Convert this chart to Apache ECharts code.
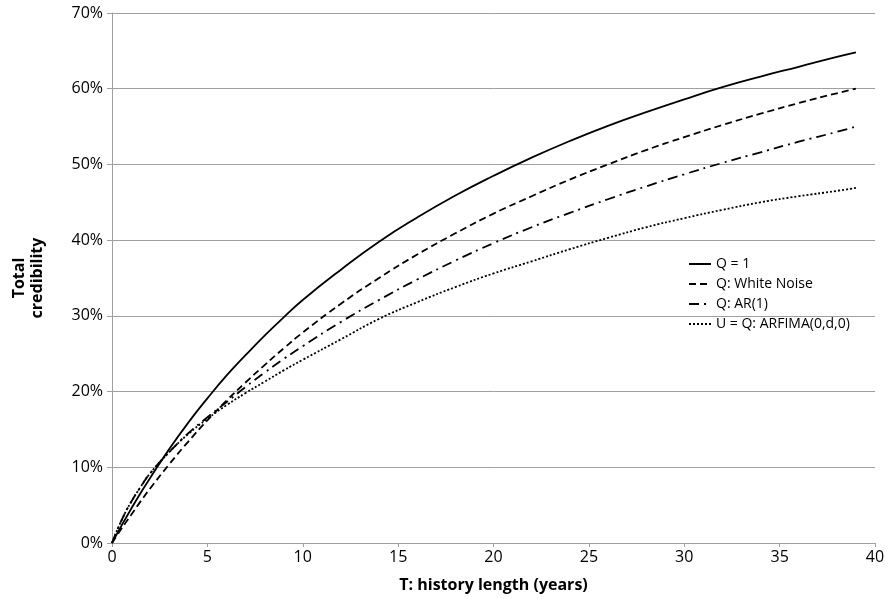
<!DOCTYPE html>
<html>
<head>
<meta charset="utf-8">
<script src="https://cdn.jsdelivr.net/npm/echarts@6/dist/echarts.min.js"></script>
<style>
  html, body { margin: 0; padding: 0; background: #fff; }
  #chart { width: 890px; height: 599px; }
</style>
</head>
<body>
<div id="chart"></div>
<script>
// history length T (years)
const years = [0, 0.5, 1, 1.5, 2, 3, 4, 5, 6, 7, 8, 9, 10, 12, 14, 16, 18, 20, 22, 24, 26, 28, 30, 32, 34, 36, 38, 39];

// total credibility, percent
const qOne =       [0, 2.3, 4.5, 6.6, 8.6, 12.4, 15.9, 19.1, 22.1, 24.8, 27.4, 29.8, 32.1, 36.1, 39.8, 43.0, 45.9, 48.5, 50.9, 53.1, 55.1, 56.9, 58.6, 60.2, 61.6, 62.9, 64.2, 64.8];
const whiteNoise = [0, 1.9, 3.7, 5.5, 7.2, 10.4, 13.4, 16.2, 18.8, 21.2, 23.5, 25.7, 27.8, 31.6, 35.0, 38.1, 40.9, 43.5, 45.8, 48.0, 50.0, 51.9, 53.6, 55.2, 56.7, 58.1, 59.4, 60.0];
const ar1 =        [0, 3.0, 5.4, 7.4, 9.2, 12.0, 14.5, 16.6, 18.6, 20.6, 22.5, 24.3, 26.0, 29.2, 32.1, 34.8, 37.3, 39.6, 41.7, 43.6, 45.4, 47.1, 48.7, 50.2, 51.6, 53.0, 54.3, 55.0];
const arfima =     [0, 3.0, 5.4, 7.4, 9.2, 12.0, 14.4, 16.4, 18.2, 19.8, 21.3, 22.8, 24.2, 26.9, 29.6, 31.8, 33.8, 35.6, 37.2, 38.8, 40.3, 41.7, 42.9, 44.0, 45.0, 45.8, 46.5, 46.9];

const seriesNames = ['Q = 1', 'Q: White Noise', 'Q: AR(1)', 'U = Q: ARFIMA(0,d,0)'];

function pairs(ys) {
  return years.map((x, i) => [x, ys[i]]);
}

const chart = echarts.init(document.getElementById('chart'));

const font = 'Open Sans';
const gridColor = '#a0a0a0';

const option = {
  animation: false,
  backgroundColor: '#fff',
  grid: { left: 112, right: 15, top: 13, bottom: 56 },
  legend: {
    orient: 'vertical',
    left: 683,
    top: 252,
    itemWidth: 22,
    itemHeight: 10,
    itemGap: 6,
    itemStyle: { color: 'transparent', borderColor: 'transparent', borderWidth: 0 },
    textStyle: { fontFamily: font, fontSize: 14, color: '#000' },
    data: seriesNames
  },
  xAxis: {
    type: 'value',
    min: 0,
    max: 40,
    interval: 5,
    name: 'T: history length (years)',
    nameLocation: 'middle',
    nameGap: 34,
    nameTextStyle: { fontFamily: font, fontSize: 16, fontWeight: 'bold', color: '#000' },
    axisLine: { lineStyle: { color: gridColor, width: 1 } },
    axisTick: { show: true, length: 4, lineStyle: { color: gridColor } },
    axisLabel: { fontFamily: font, fontSize: 16, color: '#000', margin: 6 },
    splitLine: { show: false }
  },
  yAxis: {
    type: 'value',
    min: 0,
    max: 70,
    interval: 10,
    name: 'Total\ncredibility',
    nameLocation: 'middle',
    nameGap: 66,
    nameRotate: 90,
    nameTextStyle: { fontFamily: font, fontSize: 16, fontWeight: 'bold', color: '#000', lineHeight: 18 },
    axisLine: { show: true, lineStyle: { color: gridColor, width: 1 } },
    axisTick: { show: true, length: 5, lineStyle: { color: gridColor } },
    axisLabel: { fontFamily: font, fontSize: 16, color: '#000', margin: 9, formatter: '{value}%' },
    splitLine: { show: true, lineStyle: { color: gridColor, width: 1 } }
  },
  series: [
    { name: seriesNames[0], data: pairs(qOne), lineStyle: { type: 'solid' } },
    { name: seriesNames[1], data: pairs(whiteNoise), lineStyle: { type: [7, 4] } },
    { name: seriesNames[2], data: pairs(ar1), lineStyle: { type: [10, 5, 2, 5] } },
    { name: seriesNames[3], data: pairs(arfima), lineStyle: { type: [2, 2] } }
  ].map(s => ({
    type: 'line',
    smooth: true,
    showSymbol: false,
    symbol: 'none',
    color: '#000',
    name: s.name,
    data: s.data,
    lineStyle: Object.assign({ color: '#000', width: 1.8 }, s.lineStyle)
  }))
};

chart.setOption(option);
</script>
</body>
</html>
